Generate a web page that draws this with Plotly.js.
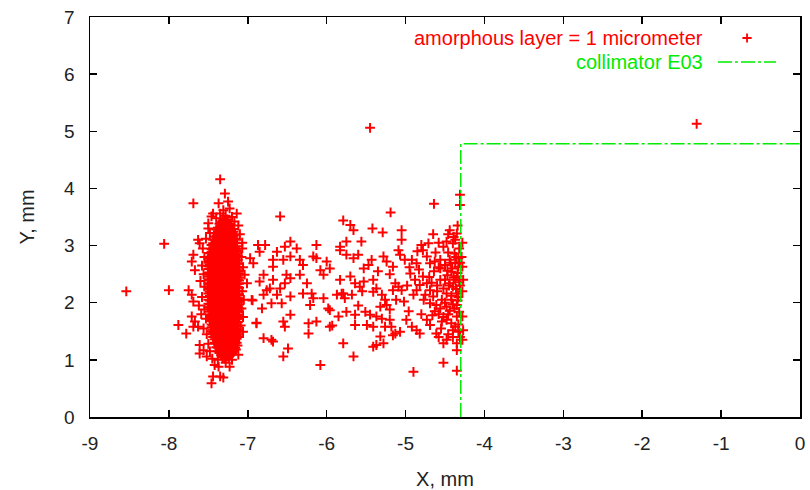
<!DOCTYPE html>
<html>
<head>
<meta charset="utf-8">
<script src="https://cdn.plot.ly/plotly-3.0.1.min.js"></script>
<style>html,body{margin:0;padding:0;background:#fff;}#chart{width:810px;height:490px;}</style>
</head>
<body>
<div id="chart"></div>
<script>
// ---- Data (X, mm / Y, mm) ----
const seriesName = 'amorphous layer = 1 micrometer';
const collimatorName = 'collimator E03';

// dense core near X = -7.3 : column x positions and y values of each column
const coreColX = [-7.50, -7.46, -7.42, -7.38, -7.34, -7.30, -7.26, -7.22, -7.18, -7.14, -7.11,
                  -7.48, -7.44, -7.40, -7.36, -7.32, -7.28, -7.24, -7.20, -7.16, -7.125];
const coreCol1 = [1.92,1.98,2.05,2.10,2.16,2.23,2.28,2.34,2.41,2.46,2.52,2.59,2.64,2.70,2.77];
const coreCol2 = [1.50,1.57,1.62,1.68,1.75,1.80,1.86,1.93,1.99,2.04,2.11,2.17,2.22,2.29,2.35,2.40,2.47,2.53,2.58,2.65,2.71,2.76,2.83,2.89,2.94,3.01];
const coreCol3 = [1.30,1.36,1.41,1.48,1.54,1.59,1.66,1.72,1.77,1.84,1.90,1.95,2.02,2.08,2.13,2.20,2.26,2.31,2.38,2.44,2.49,2.56,2.62,2.67,2.74,2.80,2.85,2.92,2.98,3.03,3.10,3.16];
const coreCol4 = [1.15,1.21,1.27,1.32,1.39,1.45,1.50,1.57,1.63,1.68,1.75,1.81,1.86,1.93,1.99,2.04,2.11,2.17,2.22,2.29,2.35,2.40,2.47,2.53,2.58,2.65,2.71,2.76,2.83,2.89,2.94,3.01,3.07,3.12,3.19,3.25,3.31];
const coreCol5 = [1.08,1.13,1.19,1.26,1.31,1.37,1.44,1.49,1.55,1.62,1.67,1.73,1.80,1.85,1.91,1.98,2.03,2.09,2.16,2.21,2.27,2.34,2.39,2.45,2.52,2.57,2.63,2.70,2.75,2.81,2.88,2.93,2.99,3.06,3.11,3.17,3.24,3.29,3.35,3.41];
const coreCol6 = [1.05,1.11,1.16,1.22,1.29,1.34,1.40,1.47,1.52,1.58,1.65,1.70,1.76,1.83,1.88,1.94,2.01,2.06,2.12,2.19,2.24,2.30,2.37,2.42,2.48,2.55,2.60,2.66,2.73,2.78,2.84,2.91,2.96,3.02,3.09,3.14,3.20,3.27,3.32,3.38,3.44];
const coreCol7 = [1.06,1.12,1.18,1.25,1.30,1.36,1.43,1.48,1.54,1.61,1.66,1.72,1.79,1.84,1.90,1.97,2.02,2.08,2.15,2.20,2.26,2.33,2.38,2.44,2.51,2.56,2.62,2.69,2.74,2.80,2.87,2.92,2.98,3.05,3.10,3.16,3.23,3.28,3.34,3.41,3.46];
const coreCol8 = [1.08,1.15,1.21,1.26,1.33,1.39,1.44,1.51,1.57,1.62,1.69,1.75,1.80,1.87,1.93,1.98,2.05,2.11,2.16,2.23,2.29,2.34,2.41,2.47,2.52,2.59,2.65,2.70,2.77,2.83,2.88,2.95,3.01,3.06,3.13,3.19,3.24,3.31,3.37];
const coreCol9 = [1.14,1.19,1.25,1.32,1.37,1.43,1.50,1.55,1.61,1.68,1.73,1.79,1.86,1.91,1.97,2.04,2.09,2.15,2.22,2.27,2.33,2.40,2.45,2.51,2.58,2.63,2.69,2.76,2.81,2.87,2.94,2.99,3.05,3.12,3.17,3.24,3.29];
const coreCol10 = [1.30,1.37,1.42,1.48,1.55,1.60,1.66,1.73,1.78,1.84,1.91,1.96,2.02,2.09,2.14,2.20,2.27,2.32,2.38,2.45,2.50,2.56,2.63,2.68,2.74,2.81,2.86,2.92,2.99,3.04,3.10];
const coreCol11 = [1.72,1.79,1.85,1.90,1.97,2.03,2.08,2.15,2.21,2.26,2.33,2.39,2.44,2.51,2.57,2.62,2.69];
const coreCol12 = [1.70,1.77,1.84,1.91,1.97,2.04,2.12,2.19,2.25,2.32,2.39,2.46,2.53,2.60,2.67,2.73,2.80,2.87];
const coreCol13 = [1.40,1.47,1.53,1.60,1.67,1.74,1.81,1.88,1.94,2.01,2.08,2.15,2.22,2.29,2.35,2.42,2.49,2.56,2.63,2.70,2.77,2.83,2.90,2.97,3.04,3.10];
const coreCol14 = [1.22,1.29,1.36,1.43,1.50,1.56,1.63,1.70,1.77,1.84,1.91,1.97,2.04,2.11,2.18,2.25,2.32,2.38,2.45,2.52,2.59,2.66,2.73,2.79,2.86,2.93,3.00,3.07,3.14,3.21,3.28];
const coreCol15 = [1.12,1.19,1.26,1.33,1.39,1.46,1.53,1.60,1.67,1.74,1.80,1.87,1.94,2.01,2.08,2.15,2.21,2.28,2.35,2.42,2.49,2.56,2.62,2.69,2.76,2.83,2.90,2.97,3.03,3.10,3.17,3.24,3.31,3.38];
const coreCol16 = [1.04,1.10,1.17,1.24,1.31,1.38,1.45,1.51,1.58,1.65,1.72,1.79,1.86,1.92,1.99,2.06,2.13,2.20,2.27,2.33,2.40,2.47,2.54,2.61,2.68,2.74,2.81,2.88,2.95,3.02,3.09,3.15,3.22,3.29,3.36,3.43];
const coreCol17 = [1.03,1.09,1.16,1.23,1.30,1.37,1.43,1.50,1.57,1.64,1.71,1.78,1.84,1.91,1.98,2.05,2.12,2.19,2.25,2.32,2.39,2.46,2.53,2.60,2.66,2.73,2.80,2.87,2.94,3.01,3.07,3.14,3.21,3.28,3.35,3.42];
const coreCol18 = [1.05,1.12,1.19,1.26,1.32,1.39,1.46,1.53,1.60,1.67,1.73,1.80,1.87,1.94,2.01,2.08,2.14,2.21,2.28,2.35,2.42,2.49,2.55,2.62,2.69,2.76,2.83,2.90,2.96,3.03,3.10,3.17,3.24,3.31,3.38];
const coreCol19 = [1.10,1.17,1.24,1.31,1.38,1.44,1.51,1.58,1.65,1.72,1.79,1.85,1.92,1.99,2.06,2.13,2.20,2.26,2.33,2.40,2.47,2.54,2.61,2.67,2.74,2.81,2.88,2.95,3.02,3.08,3.15,3.22,3.29];
const coreCol20 = [1.21,1.28,1.34,1.41,1.48,1.55,1.62,1.69,1.75,1.82,1.89,1.96,2.03,2.10,2.16,2.23,2.30,2.37,2.44,2.51,2.57,2.64,2.71,2.78,2.85,2.92,2.98,3.05,3.12,3.19];
const coreCol21 = [1.45,1.52,1.59,1.66,1.72,1.79,1.86,1.93,2.00,2.07,2.13,2.20,2.27,2.34,2.41,2.48,2.54,2.61,2.68,2.75,2.82,2.89];

// halo around the core and far outliers
const haloX = [-7.35,-7.29,-7.37,-7.25,-7.23,-7.31,-7.44,-7.14,-7.35,-7.28,-7.20,-7.40,-7.46,-7.50,-7.17,-7.12,-7.50,-7.48,-7.10,-7.53,-7.07,
  -7.69,-7.63,-7.61,-7.69,-7.71,-7.67,-7.57,-7.55,-7.58,-7.56,-7.60,-7.55,-7.75,-7.71,-7.69,-7.58,-7.62,-7.55,-7.59,-7.53,-7.71,-7.67,-7.69,-7.63,-7.56,-7.52,-7.88,-7.78,-7.61,-7.56,-7.61,-7.50,-7.48,-7.52,-7.45,-7.42,-7.44,-7.35,-7.46,-7.37,-7.23,-7.31,-7.28,-7.20,-7.12,-7.15,-7.38,
  -7.07,-7.08,-7.06,-7.04,-7.01,-7.07,-7.05,-7.08,-7.06,-7.09,-7.06,-7.11,-7.13,-6.94,-6.89,
  -8.54,-8.00,-8.06,-5.45,-1.31];
const haloY = [4.16,3.91,3.74,3.77,3.65,3.62,3.56,3.56,3.56,3.52,3.50,3.48,3.51,3.39,3.42,3.35,3.30,3.22,3.20,3.12,3.05,
  3.74,3.10,3.04,2.84,2.72,2.57,2.95,2.80,2.65,2.50,2.38,2.28,2.22,2.14,2.02,2.10,1.95,1.88,1.80,1.72,1.76,1.67,1.58,1.58,1.55,1.45,1.61,1.46,1.26,1.17,1.11,1.28,1.15,1.06,1.02,0.91,0.71,0.71,0.59,0.88,0.88,0.69,0.95,1.00,1.09,1.18,1.00,
  2.95,2.80,2.62,2.49,2.34,2.20,2.05,1.90,1.75,1.60,1.49,1.40,1.25,2.04,1.65,
  2.20,2.22,3.03,5.06,5.13];

// scattered points between X = -7 and the collimator edge
const spreadX = [-6.59,-5.83,-6.13,-6.17,-6.13,-6.00,-6.46,-6.38,-6.53,-6.63,-6.87,-6.78,-6.85,-6.97,-6.93,-6.68,-6.55,-6.68,-6.46,-6.34,-6.30,
  -6.80,-6.85,-6.68,-6.51,-6.46,-6.53,-6.59,-6.72,-6.76,-6.80,-6.63,-6.70,-6.57,-6.46,-6.34,-6.25,-6.30,-6.19,-6.17,-6.21,-6.04,-6.08,-6.04,-5.96,
  -5.87,-5.98,-5.96,-5.85,-6.95,-6.82,-6.46,-6.89,-6.55,-6.53,-6.23,-6.13,-6.23,-5.96,-5.93,-6.80,-6.70,-6.68,-6.49,-6.55,-6.08,
  -4.31,-4.31,-4.64,-5.19,-5.79,-5.70,-5.66,-5.42,-5.29,-5.05,-5.05,-4.65,-4.44,-4.35,-5.56,-5.75,-5.09,-4.80,-4.78,-4.71,-4.52,-4.48,-4.40,
  -5.83,-5.75,-5.66,-5.60,-5.43,-5.47,-5.53,-5.28,-5.24,-5.16,-5.07,-5.01,-4.92,-4.86,-4.73,-4.69,-4.63,-4.56,-4.56,-4.44,-4.37,-4.33,-4.42,-4.35,
  -5.83,-5.79,-5.77,-5.68,-5.70,-5.64,-5.58,-5.53,-5.41,-5.41,-5.37,-5.30,-5.26,-5.24,-5.32,-5.13,-5.09,-5.16,-5.05,-4.94,-4.88,-4.82,-4.86,-4.90,
  -4.78,-4.73,-4.69,-4.75,-4.65,-4.69,-4.61,-4.56,-4.52,-4.48,-4.44,-4.40,-4.37,-4.35,-4.42,-4.35,-4.48,-4.54,
  -5.75,-5.64,-5.64,-5.51,-5.45,-5.49,-5.41,-5.37,-5.30,-5.26,-5.20,-5.18,-5.13,-5.07,-5.32,-5.28,-5.37,-5.41,-5.16,
  -4.99,-4.92,-4.86,-4.82,-4.73,-4.69,-4.61,-4.58,-4.52,-4.48,-4.54,-4.48,-4.42,-4.35,-4.37,-4.33,-4.40,-4.35,-4.35,
  -5.79,-5.66,-4.90,-4.52,-4.35,-5.81,
  -4.46,-4.38,-4.33,-4.50,-4.41,-4.34,-4.47,-4.39,-4.32,-4.45,-4.36,-4.33,-4.42,-4.50,-4.38,-4.32,-4.44,-4.60,-4.64,-4.70,-4.58,-4.52,-4.34,-4.37,-4.32,
  -4.62,-4.58,-4.67,-4.60,-4.50,-4.47,-4.43,-4.36,-4.31,-4.31,-4.34,-4.40,-4.46,-4.56,-4.63,-4.66,-4.40,-4.46,-4.55,-4.33,-4.31,-4.39,-4.46,-4.58,
  -4.85,-4.95,-4.98,-5.02,-4.96,-4.80,-4.77,-4.83,-5.20,-5.35,-5.55,-5.60,-5.20,-5.12,
  -4.28,-4.29,-4.28,-4.27,-4.28,-4.28,-4.27,-4.28];
const spreadY = [3.51,2.98,3.01,2.81,2.78,2.72,3.07,2.95,2.98,2.89,3.01,3.01,2.89,2.78,2.69,2.75,2.75,2.63,2.81,2.75,2.66,
  2.49,2.37,2.40,2.49,2.43,2.34,2.25,2.25,2.22,2.14,2.14,1.99,1.99,2.11,2.49,2.34,2.16,2.16,2.08,1.96,2.08,2.57,2.49,2.60,
  2.14,1.90,1.87,1.76,2.05,1.90,1.79,1.64,1.67,1.58,1.64,1.67,1.46,1.58,1.60,1.38,1.35,1.32,1.20,1.06,0.91,
  3.89,3.71,3.73,3.58,3.44,3.36,3.27,3.30,3.23,3.27,3.10,3.20,3.27,3.21,3.07,3.07,2.92,3.01,2.92,3.04,2.98,3.07,3.04,
  2.92,2.84,2.78,2.84,2.75,2.66,2.60,2.81,2.72,2.63,2.84,2.75,2.75,2.69,2.81,2.69,2.72,2.75,2.60,2.75,2.69,2.63,2.54,2.46,
  2.40,2.16,2.08,2.14,2.46,2.34,2.28,2.37,2.40,2.19,2.25,2.14,2.05,1.96,1.93,2.34,2.28,2.22,2.22,2.51,2.40,2.31,2.22,2.14,
  2.46,2.34,2.22,2.14,2.11,1.99,1.96,2.40,2.25,2.16,2.34,2.28,2.40,2.16,2.05,1.96,1.93,2.05,
  1.84,1.79,1.61,1.84,1.79,1.61,1.58,1.76,1.72,1.58,1.70,1.58,1.46,1.49,1.41,1.29,1.26,1.23,1.43,
  1.70,1.58,1.52,1.46,1.70,1.61,1.46,1.40,1.29,1.35,1.67,1.70,1.64,1.76,1.58,1.49,1.40,1.29,1.17,
  1.29,1.06,0.79,0.95,0.81,2.16,
  2.88,2.86,2.78,2.66,2.60,2.52,2.48,2.44,2.36,2.30,2.24,2.10,2.12,2.00,1.90,1.84,1.86,2.20,2.55,2.45,1.80,1.75,3.35,3.10,2.95,
  2.88,2.62,2.35,2.30,2.40,2.56,2.70,2.80,2.70,2.30,2.04,1.97,1.80,1.90,1.85,1.78,1.52,1.45,1.55,1.62,1.40,3.15,3.20,3.05,
  2.90,2.62,2.30,2.02,1.85,1.80,2.05,2.58,2.50,2.55,2.20,1.95,1.88,2.05,
  3.05,2.80,2.63,2.40,2.20,1.76,1.52,1.35];

// collimator E03 outline
const collX = [-4.3, -4.3, 0];
const collY = [0, 4.78, 4.78];

// axis ticks
const xTicks = [-9,-8,-7,-6,-5,-4,-3,-2,-1,0];
const yTicks = [0,1,2,3,4,5,6,7];

// ---- assemble ----
const coreCols = [coreCol1,coreCol2,coreCol3,coreCol4,coreCol5,coreCol6,coreCol7,coreCol8,coreCol9,coreCol10,coreCol11,
                  coreCol12,coreCol13,coreCol14,coreCol15,coreCol16,coreCol17,coreCol18,coreCol19,coreCol20,coreCol21];
const ptsX = [], ptsY = [];
coreCols.forEach((col, i) => col.forEach(v => { ptsX.push(coreColX[i]); ptsY.push(v); }));
haloX.forEach((v, i) => { ptsX.push(v); ptsY.push(haloY[i]); });
spreadX.forEach((v, i) => { ptsX.push(v); ptsY.push(spreadY[i]); });

const RED = '#ff0000';
const GREEN = 'rgb(0,235,0)';
const DASH = '14px,3px,3px,3px';
const FONT = 'Liberation Sans, Arial, sans-serif';

const traces = [
  {
    type: 'scatter', mode: 'markers', name: seriesName, x: ptsX, y: ptsY,
    marker: {symbol: 'cross-thin-open', size: 7, color: RED, line: {color: RED, width: 2}},
    showlegend: false, hoverinfo: 'skip'
  },
  {
    type: 'scatter', mode: 'lines', name: collimatorName, x: collX, y: collY,
    line: {color: GREEN, width: 1.5, dash: DASH},
    showlegend: false, hoverinfo: 'skip'
  }
];

const tickFont = {family: FONT, size: 19, color: '#222'};
const titleFont = {family: FONT, size: 20, color: '#222'};

const layout = {
  width: 810, height: 490,
  margin: {l: 90, r: 10, t: 17, b: 73},
  paper_bgcolor: '#ffffff', plot_bgcolor: '#ffffff',
  showlegend: false,
  xaxis: {
    range: [-9, 0], tickvals: xTicks, ticktext: xTicks.map(String),
    ticks: 'inside', ticklen: 7, tickwidth: 1.5, tickcolor: '#000',
    showline: true, linecolor: '#000', linewidth: 1.5, mirror: 'ticks',
    showgrid: false, zeroline: false, tickfont: tickFont, ticklabelstandoff: 9,
    title: {text: 'X, mm', font: titleFont, standoff: 18}
  },
  yaxis: {
    range: [0, 7], tickvals: yTicks, ticktext: yTicks.map(String),
    ticks: 'inside', ticklen: 7, tickwidth: 1.5, tickcolor: '#000',
    showline: true, linecolor: '#000', linewidth: 1.5, mirror: 'ticks',
    showgrid: false, zeroline: false, tickfont: tickFont, ticklabelstandoff: 10,
    title: {text: 'Y, mm', font: titleFont, standoff: 24}
  },
  annotations: [
    {xref: 'paper', yref: 'paper', x: 0.8662, y: 0.9475, xanchor: 'right', yanchor: 'middle', showarrow: false,
     text: seriesName, font: {family: FONT, size: 20, color: RED}},
    {xref: 'paper', yref: 'paper', x: 0.8662, y: 0.8875, xanchor: 'right', yanchor: 'middle', showarrow: false,
     text: collimatorName, font: {family: FONT, size: 20, color: GREEN}}
  ],
  shapes: [
    {type: 'path', xref: 'paper', yref: 'paper', xsizemode: 'pixel', ysizemode: 'pixel',
     xanchor: 0.9254, yanchor: 0.9475, path: 'M-4.6,0L4.6,0M0,-4.6L0,4.6', line: {color: RED, width: 1.8}},
    {type: 'line', xref: 'paper', yref: 'paper', x0: 0.8845, x1: 0.9662, y0: 0.8875, y1: 0.8875,
     line: {color: GREEN, width: 1.5, dash: DASH}}
  ]
};

Plotly.newPlot('chart', traces, layout, {staticPlot: true, displayModeBar: false});
</script>
</body>
</html>
